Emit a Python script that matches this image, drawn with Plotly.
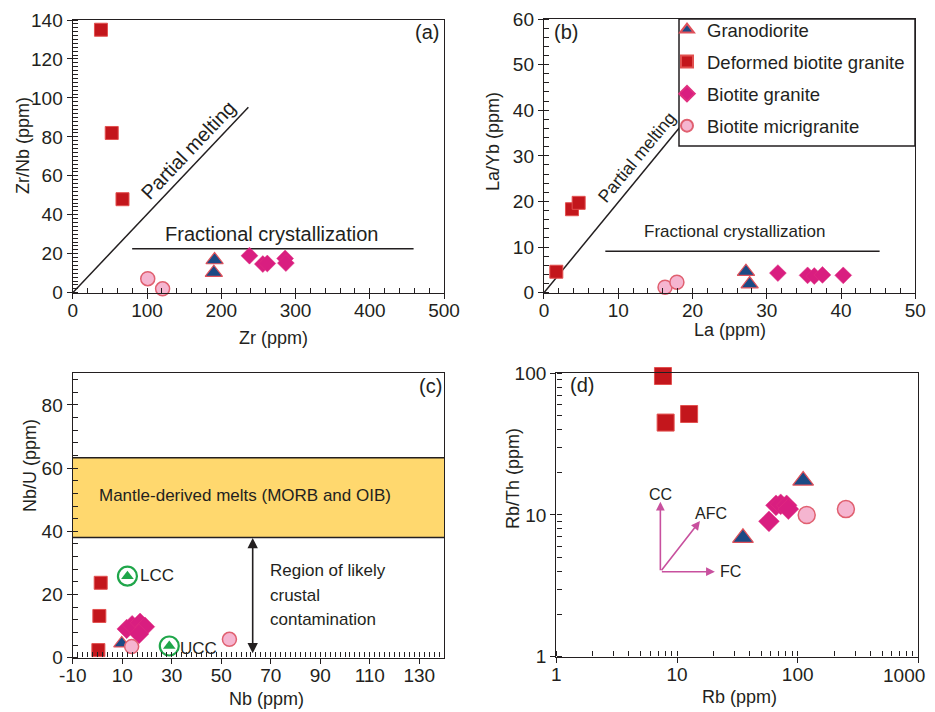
import numpy as np
import plotly.graph_objects as go

# ---------------- data ----------------
series_names = ["Granodiorite", "Deformed biotite granite", "Biotite granite", "Biotite micrigranite"]

# (a) Zr vs Zr/Nb
a_gd_x = [191, 190];               a_gd_y = [16.8, 10.3]
a_dbg_x = [38, 52.5, 67];          a_dbg_y = [135, 82, 48]
a_bg_x = [238, 256, 262, 286, 287]; a_bg_y = [19, 14.7, 15, 17.6, 15.2]
a_bm_x = [101, 121];               a_bm_y = [7.2, 2.0]
a_pm_line = ([0, 236.5], [0, 95.2])
a_fc_line = ([80, 459], [22.6, 22.6])

# (b) La vs La/Yb
b_gd_x = [27.2, 27.7];             b_gd_y = [4.6, 1.9]
b_dbg_x = [1.66, 3.77, 4.67];      b_dbg_y = [4.6, 18.3, 19.7]
b_bg_x = [31.5, 35.5, 36.4, 37.5, 40.3]; b_bg_y = [4.3, 3.8, 3.65, 3.9, 3.8]
b_bm_x = [16.3, 17.9];             b_bm_y = [1.2, 2.3]
b_pm_line = ([0, 18.4], [0, 36.5])
b_fc_line = ([8.26, 45.2], [9.1, 9.1])

# (c) Nb vs Nb/U
c_gd_x = [9.8];                    c_gd_y = [4.5]
c_dbg_x = [1.3, 0.75, 0.35];       c_dbg_y = [23.7, 13.2, 2.4]
c_bg_x = [11.8, 14.0, 17.2, 19.2, 16.8]; c_bg_y = [9.1, 10.3, 11.05, 9.8, 7.5]
c_bm_x = [13.8, 53.3];             c_bm_y = [3.5, 5.8]
c_ref_names = ["LCC", "UCC"]
c_ref_x = [12.1, 29.0];            c_ref_y = [25.8, 3.7]
c_band = (38.0, 63.3)
c_arrow = (62.7, 0.9, 37.9)
c_xticks = [-10, 10, 30, 50, 70, 90, 110, 130]
c_xticklabels = ["-10", "10", "30", "50", "70", "90", "110", "130"]

# (d) Rb vs Rb/Th (log-log)
d_gd_x = [111, 35.2];              d_gd_y = [17.5, 6.9]
d_dbg_x = [7.65, 8.05, 12.6];      d_dbg_y = [95.7, 44.9, 51.6]
d_bg_x = [57.8, 66.1, 72.3, 81, 83.7]; d_bg_y = [9.02, 11.7, 11.9, 11.7, 11.0]
d_bm_x = [118.8, 251];             d_bm_y = [10.0, 11.0]
d_vec_origin = (7.28, 3.98)
d_vec_names = ["CC", "AFC", "FC"]
d_vec_end_x = [7.28, 15.5, 20.6]
d_vec_end_y = [12.4, 9.07, 3.98]
d_xticks = [1, 10, 100, 1000]
d_xticklabels = ["1", "10", "100", ""]   # last label is drawn shifted left (as in the original) below
d_last_xlabel = "1000"
d_yticks = [1, 10, 100]
d_yticklabels = ["1", "10", "100"]

# ---------------- styles ----------------
TXT = "#231F20"
FONT = "Liberation Sans, Arial, sans-serif"
W, H = 935, 712
styles = {
    "Granodiorite": dict(symbol="triangle-up", color="#1B4A85", line=dict(color="#E0505A", width=1.2)),
    "Deformed biotite granite": dict(symbol="square", color="#C3161C", line=dict(color="#E2504F", width=1)),
    "Biotite granite": dict(symbol="diamond", color="#D91E80", line=dict(color="#E0307F", width=0.5)),
    "Biotite micrigranite": dict(symbol="circle", color="#F5B5D0", line=dict(color="#E06070", width=1.5)),
}
sizes_small = {"Granodiorite": 15, "Deformed biotite granite": 13, "Biotite granite": 13, "Biotite micrigranite": 14}
sizes_c = {"Granodiorite": 14, "Deformed biotite granite": 13, "Biotite granite": 15, "Biotite micrigranite": 14}
sizes_d = {"Granodiorite": 18, "Deformed biotite granite": 17, "Biotite granite": 16, "Biotite micrigranite": 17}

fig = go.Figure()

panels = [
    ("x", "y", [(a_gd_x, a_gd_y), (a_dbg_x, a_dbg_y), (a_bg_x, a_bg_y), (a_bm_x, a_bm_y)], sizes_small, True),
    ("x2", "y2", [(b_gd_x, b_gd_y), (b_dbg_x, b_dbg_y), (b_bg_x, b_bg_y), (b_bm_x, b_bm_y)], sizes_small, False),
    ("x3", "y3", [(c_gd_x, c_gd_y), (c_dbg_x, c_dbg_y), (c_bg_x, c_bg_y), (c_bm_x, c_bm_y)], sizes_c, False),
    ("x4", "y4", [(d_gd_x, d_gd_y), (d_dbg_x, d_dbg_y), (d_bg_x, d_bg_y), (d_bm_x, d_bm_y)], sizes_d, False),
]

fig.add_trace(go.Scatter(x=c_ref_x, y=c_ref_y, xaxis="x3", yaxis="y3", mode="markers",
                         marker=dict(symbol="circle-open", size=19, color="#1FA64A", line=dict(width=2.2, color="#1FA64A")),
                         showlegend=False, cliponaxis=False, hoverinfo="skip"))
fig.add_trace(go.Scatter(x=c_ref_x, y=c_ref_y, xaxis="x3", yaxis="y3", mode="markers",
                         marker=dict(symbol="triangle-up", size=11, color="#1FA64A"),
                         showlegend=False, cliponaxis=False, hoverinfo="skip"))

for xa, ya, data, sz, leg in panels:
    for name, (xs, ys) in zip(series_names, data):
        st = styles[name]
        fig.add_trace(go.Scatter(
            x=xs, y=ys, xaxis=xa, yaxis=ya, mode="markers", name=name,
            legendgroup=name, showlegend=leg, cliponaxis=False,
            marker=dict(symbol=st["symbol"], size=sz[name], color=st["color"], line=st["line"]),
        ))

# ---------------- axes ----------------
def axis(domain, rng, dtick, minor_dtick, anchor, log=False, tickvals=None, ticktext=None, is_x=True):
    d = dict(domain=domain, range=rng, anchor=anchor, showgrid=False, zeroline=False, automargin=False,
             showline=True, linecolor="#231F20", linewidth=1.4, mirror=True,
             ticks="outside", ticklen=5, tickwidth=1.2, tickcolor="#231F20",
             tickfont=dict(size=19, color=TXT, family=FONT))
    if is_x:
        d.update(ticklabelstandoff=-5)
    if log:
        d.update(type="log", tickmode="array", tickvals=tickvals, ticktext=ticktext,
                 minor=dict(ticks="inside", ticklen=5, tickwidth=1, tickcolor="#231F20", dtick="D1", showgrid=False))
    else:
        if tickvals is not None:
            d.update(tickmode="array", tickvals=tickvals, ticktext=ticktext)
        else:
            d.update(dtick=dtick)
        d.update(minor=dict(ticks="inside", ticklen=5, tickwidth=1, tickcolor="#231F20",
                            dtick=minor_dtick, tick0=rng[0], showgrid=False))
    return d

xa_dom = [0.0778, 0.4749]
xb_dom = [0.5818, 0.9789]
xd_dom = [0.595, 0.9822]
top_dom = [0.5889, 0.9719]
topb_dom = [0.5889, 0.9733]
bot_dom = [0.0763, 0.4757]
botd_dom = [0.0777, 0.4757]

fig.update_layout(
    xaxis=axis(xa_dom, [0, 500], 100, 20, "y"),
    yaxis=axis(top_dom, [0, 140], 20, 2, "x", is_x=False),
    xaxis2=axis(xb_dom, [0, 50], 10, 2, "y2"),
    yaxis2=axis(topb_dom, [0, 60], 10, 2, "x2", is_x=False),
    xaxis3=axis(xa_dom, [-10, 140], None, 2, "y3", tickvals=c_xticks, ticktext=c_xticklabels),
    yaxis3=axis(bot_dom, [0, 90], 20, 4, "x3", is_x=False),
    xaxis4=axis(xd_dom, [0, 3], None, None, "y4", log=True, tickvals=d_xticks, ticktext=d_xticklabels),
    yaxis4=axis(botd_dom, [0, 2], None, None, "x4", log=True, tickvals=d_yticks, ticktext=d_yticklabels, is_x=False),
)

# ---------------- shapes ----------------
shapes = []
line_style = dict(color="#231F20", width=1.5)
for (xs, ys), xr, yr in [(a_pm_line, "x", "y"), (a_fc_line, "x", "y"), (b_pm_line, "x2", "y2"), (b_fc_line, "x2", "y2")]:
    shapes.append(dict(type="line", xref=xr, yref=yr, x0=xs[0], y0=ys[0], x1=xs[1], y1=ys[1], line=line_style, layer="below"))
shapes.append(dict(type="rect", xref="x3 domain", yref="y3", x0=0, x1=1, y0=c_band[0], y1=c_band[1],
                   fillcolor="#FFD86E", line=dict(width=0), layer="below"))
for yv in c_band:
    shapes.append(dict(type="line", xref="x3 domain", yref="y3", x0=0, x1=1, y0=yv, y1=yv, line=line_style))
# legend frame
shapes.append(dict(type="rect", xref="paper", yref="paper", x0=679 / W, x1=915 / W, y0=1 - 146 / H, y1=1 - 19 / H,
                   fillcolor="white", line=dict(color="#231F20", width=1.5), layer="above"))
fig.update_layout(shapes=shapes)

# ---------------- annotations ----------------
ann = []
def txt(x, y, s, xr, yr, size=18, angle=0, xanchor="center", color=TXT):
    ann.append(dict(x=x, y=y, xref=xr, yref=yr, text=s, showarrow=False, textangle=angle,
                    xanchor=xanchor, yanchor="middle", font=dict(size=size, color=color, family=FONT)))

def ptitle(px, py, s, angle=0, size=18):
    txt(px / W, 1 - py / H, s, "paper", "paper", size=size, angle=angle)

# axis titles
ptitle(273, 338, "Zr (ppm)")
ptitle(23, 146, "Zr/Nb (ppm)", angle=-90)
ptitle(730, 330, "La (ppm)")
ptitle(493, 141, "La/Yb (ppm)", angle=-90)
ptitle(266, 699, "Nb (ppm)")
ptitle(30, 466, "Nb/U (ppm)", angle=-90)
ptitle(739, 697, "Rb (ppm)")
ptitle(513, 479, "Rb/Th (ppm)", angle=-90)
# last tick label of (d) x axis, shifted left of its tick as in the original
ptitle(904, 675, d_last_xlabel, size=19)

txt(155.7, 73.2, "Partial melting", "x", "y", size=20, angle=-46.5)
txt(268, 30, "Fractional crystallization", "x", "y", size=20)
txt(476.7, 134, "(a)", "x", "y", size=20)

txt(12.5, 29.8, "Partial melting", "x2", "y2", size=17.5, angle=-50.6)
txt(25.7, 13.5, "Fractional crystallization", "x2", "y2", size=17)
txt(2.96, 57.2, "(b)", "x2", "y2", size=20)

txt(59.6, 51.4, "Mantle-derived melts (MORB and OIB)", "x3", "y3", size=17)
txt(68.8, 27.7, "Region of likely", "x3", "y3", size=17, xanchor="left")
txt(68.8, 19.8, "crustal", "x3", "y3", size=17, xanchor="left")
txt(68.8, 12.1, "contamination", "x3", "y3", size=17, xanchor="left")
txt(16.2, 26.0, c_ref_names[0], "x3", "y3", size=17, xanchor="left")
txt(32.4, 3.0, c_ref_names[1], "x3", "y3", size=17, xanchor="left")
txt(134.4, 86, "(c)", "x3", "y3", size=20)

ann.append(dict(x=c_arrow[0], y=c_arrow[2], ax=c_arrow[0], ay=c_arrow[1], xref="x3", yref="y3",
                axref="x3", ayref="y3", showarrow=True, arrowhead=2, startarrowhead=2, arrowside="end+start",
                arrowsize=1.3, startarrowsize=1.3, arrowwidth=1.6, arrowcolor="#231F20", text=""))

ox, oy = np.log10(d_vec_origin[0]), np.log10(d_vec_origin[1])
for ex, ey in zip(d_vec_end_x, d_vec_end_y):
    ann.append(dict(x=np.log10(ex), y=np.log10(ey), ax=ox, ay=oy, xref="x4", yref="y4", axref="x4", ayref="y4",
                    showarrow=True, arrowhead=2, arrowsize=1.1, arrowwidth=1.6, arrowcolor="#C8509E", text=""))
lab_pos = [(7.28, 14.0), (19.0, 10.3), (27.8, 4.02)]
for name, (lx, ly) in zip(d_vec_names, lab_pos):
    txt(np.log10(lx), np.log10(ly), name, "x4", "y4", size=16)
txt(0.21, 1.917, "(d)", "x4", "y4", size=20)

fig.update_layout(annotations=ann)

fig.update_layout(
    width=W, height=H, margin=dict(l=0, r=0, t=0, b=0),
    paper_bgcolor="white", plot_bgcolor="white",
    font=dict(family=FONT, color=TXT),
    legend=dict(x=667 / W, y=1 - 11 / H, xanchor="left", yanchor="top",
                bgcolor="rgba(0,0,0,0)", borderwidth=0,
                font=dict(size=18.5, color=TXT, family=FONT), itemsizing="constant",
                traceorder="grouped", tracegroupgap=5),
)

fig.write_html("out.html")
